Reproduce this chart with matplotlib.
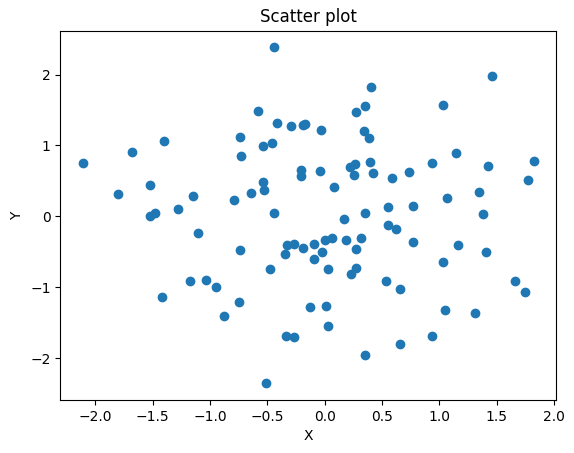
import numpy as np
import matplotlib.pyplot as plt

# point coordinates
x = [-2.108, -1.681, -1.402, -1.524, -1.803, -1.152, -1.280, -1.524, -1.475, -0.793,
     -1.106, -1.170, -1.037, -0.949, -1.420, -0.880,
     -0.444, 0.407, 0.348, 0.270, -0.578, -0.412, -0.296, -0.192, -0.168, -0.029,
     0.340, 0.383, -0.740, -0.462, -0.540, -0.726, 0.398, 0.261, 0.224, 0.253,
     0.418, 0.590, -0.209, -0.209, -0.044, -0.540, -0.531, -0.645, 0.084, -0.444,
     0.172, 0.348, 0.555,
     1.461, 1.028, 1.147, 0.932, 0.732, 1.420, 1.821, 1.774, 1.350, 1.069, 0.767, 1.385,
     0.555, 0.618, -0.734, -0.328, -0.270, -0.348, -0.191, -0.090, -0.026, -0.090,
     0.006, 0.061, 0.183, 0.314, 0.270, 0.026, 0.270, 0.233, -0.473, 0.531,
     0.655, -0.743, -0.131, 0.009, 0.026, -0.334, -0.270, 0.655, 0.348, -0.508,
     0.767, 1.167, 1.411, 1.028, 1.664, 1.751, 1.051, 1.313, 0.932]
y = [0.750, 0.915, 1.070, 0.440, 0.313, 0.281, 0.111, 0.003, 0.049, 0.238,
     -0.241, -0.918, -0.904, -1.003, -1.130, -1.398,
     2.382, 1.818, 1.559, 1.479, 1.484, 1.324, 1.268, 1.286, 1.296, 1.216,
     1.202, 1.099, 1.117, 1.042, 0.986, 0.849, 0.760, 0.736, 0.694, 0.581,
     0.605, 0.539, 0.656, 0.567, 0.647, 0.492, 0.379, 0.323, 0.421, 0.041,
     -0.030, 0.041, 0.126,
     1.987, 1.578, 0.887, 0.750, 0.623, 0.708, 0.788, 0.520, 0.341, 0.266, 0.140, 0.031,
     -0.124, -0.181, -0.477, -0.406, -0.383, -0.533, -0.439, -0.392, -0.496, -0.608,
     -0.336, -0.298, -0.340, -0.307, -0.453, -0.749, -0.735, -0.815, -0.749, -0.914,
     -1.031, -1.214, -1.285, -1.257, -1.553, -1.690, -1.708, -1.793, -1.962, -2.353,
     -0.368, -0.410, -0.496, -0.650, -0.918, -1.069, -1.323, -1.356, -1.694]

fig = plt.figure(figsize=(5.74, 4.53), dpi=100)
ax = fig.add_axes([0.1051, 0.117, 0.8636, 0.8152])

ax.scatter(x, y)

ax.set_xlabel('X')
ax.set_ylabel('Y')
ax.set_title('Scatter plot')

fig.savefig('out.png', dpi=100)
